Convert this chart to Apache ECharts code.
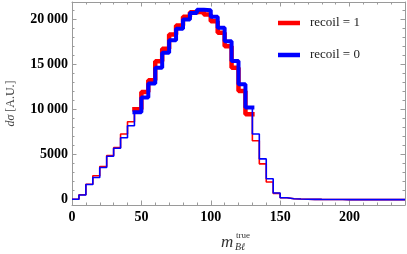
<!DOCTYPE html>
<html>
<head>
<meta charset="utf-8">
<script src="https://cdn.jsdelivr.net/npm/echarts@6/dist/echarts.min.js"></script>
<style>html,body{margin:0;padding:0;background:#fff}#c{width:407px;height:254px}</style>
</head>
<body>
<div id="c"></div>
<script>
// Histogram bins: width 5, starting at 0
const binStart = 0;
const binWidth = 5;
// recoil = 1 (red)
const recoil1 = [50, 540, 1720, 2650, 3680, 4900, 5780, 7290, 8650, 10050,
  11970, 13260, 15360, 16760, 18340, 19340, 20300, 20800, 20900, 20550,
  19800, 18530, 17050, 14660, 12080, 9500, 6550, 3980, 1960, 700,
  220, 110, 70, 50, 40, 30, 25, 20, 15, 12, 10, 8, 6, 5, 4, 3, 2, 2];
// recoil = 0 (blue)
const recoil0 = [50, 520, 1690, 2460, 3570, 4830, 5710, 6880, 8210, 9720,
  11350, 12900, 14660, 16320, 17700, 18970, 20000, 20740, 21100, 21030,
  20300, 19080, 17600, 15390, 12820, 10240, 7290, 4530, 2320, 740,
  220, 110, 70, 50, 40, 30, 25, 20, 15, 12, 10, 8, 6, 5, 4, 3, 2, 2];
const seriesNames = ['recoil = 1', 'recoil = 0'];
const xTicks = [0, 50, 100, 150, 200];
const xTickLabels = ['0', '50', '100', '150', '200'];
const xMinor = [10, 20, 30, 40, 60, 70, 80, 90, 110, 120, 130, 140, 160, 170, 180, 190, 210, 220, 230];
const yTicks = [0, 5000, 10000, 15000, 20000];
const yTickLabels = ['0', '5000', '10\u2009000', '15\u2009000', '20\u2009000'];
const yMinor = [1000, 2000, 3000, 4000, 6000, 7000, 8000, 9000, 11000, 12000, 13000, 14000, 16000, 17000, 18000, 19000, 21000];
// thick overlay covers bins from index 9 (45-50) to 25 (125-130)
const thickFrom = 9, thickTo = 25;

function steps(vals, from, to) {
  const pts = [];
  for (let i = from; i <= to; i++) {
    const x0 = binStart + i * binWidth;
    pts.push([x0, vals[i]]);
    pts.push([x0 + binWidth, vals[i]]);
  }
  return pts;
}

const frameColor = '#9a9a9a';
const X_MIN = 0, X_MAX = 240, Y_MIN = -590, Y_MAX = 21950;
const labelFont = {fontFamily: 'Liberation Serif', fontWeight: 'bold', fontSize: 14, color: '#000'};

function xAx(pos, withLabels, ticks, len, showLine) {
  return {
    type: 'value', min: X_MIN, max: X_MAX, position: pos,
    axisLine: {show: showLine, onZero: false, lineStyle: {color: frameColor, width: 1}},
    axisTick: {show: true, inside: true, length: len, customValues: ticks, lineStyle: {color: frameColor}},
    axisLabel: withLabels ? Object.assign({show: true, margin: 5, customValues: xTicks,
      formatter: v => xTickLabels[xTicks.indexOf(v)]}, labelFont) : {show: false},
    splitLine: {show: false}
  };
}
function yAx(pos, withLabels, ticks, len, showLine, extra) {
  return Object.assign({
    type: 'value', min: Y_MIN, max: Y_MAX, position: pos,
    axisLine: {show: showLine, onZero: false, lineStyle: {color: frameColor, width: 1}},
    axisTick: {show: true, inside: true, length: len, customValues: ticks, lineStyle: {color: frameColor}},
    axisLabel: withLabels ? Object.assign({show: true, margin: 4, customValues: yTicks,
      formatter: v => yTickLabels[yTicks.indexOf(v)]}, labelFont) : {show: false},
    splitLine: {show: false}
  }, extra || {});
}

const chart = echarts.init(document.getElementById('c'), null, {renderer: 'canvas'});
chart.setOption({
  animation: false,
  backgroundColor: '#fff',
  grid: {left: 72, right: 2, top: 2, bottom: 49, containLabel: false, outerBoundsMode: 'none'},
  xAxis: [
    xAx('bottom', true, xTicks, 4.5, true),
    xAx('bottom', false, xMinor, 2.5, false),
    xAx('top', false, xTicks, 4.5, true),
    xAx('top', false, xMinor, 2.5, false)
  ],
  yAxis: [
    yAx('left', true, yTicks, 4.5, true, {
      name: '{i|d\u03c3} [A.U.]', nameLocation: 'middle', nameRotate: 90, nameGap: 55,
      nameTextStyle: {fontFamily: 'Liberation Serif', fontSize: 12, color: '#444',
        rich: {i: {fontFamily: 'Liberation Serif', fontStyle: 'italic', fontSize: 12, color: '#444'}}}
    }),
    yAx('left', false, yMinor, 2.5, false),
    yAx('right', false, yTicks, 4.5, true),
    yAx('right', false, yMinor, 2.5, false)
  ],
  legend: {
    orient: 'vertical', left: 278, top: 15, padding: 0, itemGap: 16,
    itemWidth: 22, itemHeight: 4.5, icon: 'rect',
    data: seriesNames,
    textStyle: {fontFamily: 'Liberation Serif', fontSize: 13, color: '#222', lineHeight: 16, padding: [0, 0, 0, 5]}
  },
  graphic: [
    {type: 'text', left: 221, top: 234, style: {text: 'm', font: 'italic 17px "Liberation Serif"', fill: '#333'}},
    {type: 'text', left: 236, top: 231, style: {text: 'true', font: '9px "Liberation Serif"', fill: '#333'}},
    {type: 'text', left: 235, top: 242, style: {text: 'B\u2113', font: 'italic 10px "Liberation Serif"', fill: '#333'}}
  ],
  series: [
    {name: seriesNames[0], type: 'line', data: steps(recoil1, 0, recoil1.length - 1), showSymbol: false,
      color: '#ff0000', lineStyle: {color: '#ff0000', width: 1.6}, z: 2},
    {name: seriesNames[0], type: 'line', data: steps(recoil1, thickFrom, thickTo), showSymbol: false,
      color: '#ff0000', lineStyle: {color: '#ff0000', width: 4.5, cap: 'square'}, z: 3},
    {name: seriesNames[1], type: 'line', data: steps(recoil0, 0, recoil0.length - 1), showSymbol: false,
      color: '#0000ff', lineStyle: {color: '#0000ff', width: 1.6}, z: 4},
    {name: seriesNames[1], type: 'line', data: steps(recoil0, thickFrom, thickTo), showSymbol: false,
      color: '#0000ff', lineStyle: {color: '#0000ff', width: 4, cap: 'square'}, z: 5}
  ]
});
</script>
</body>
</html>
